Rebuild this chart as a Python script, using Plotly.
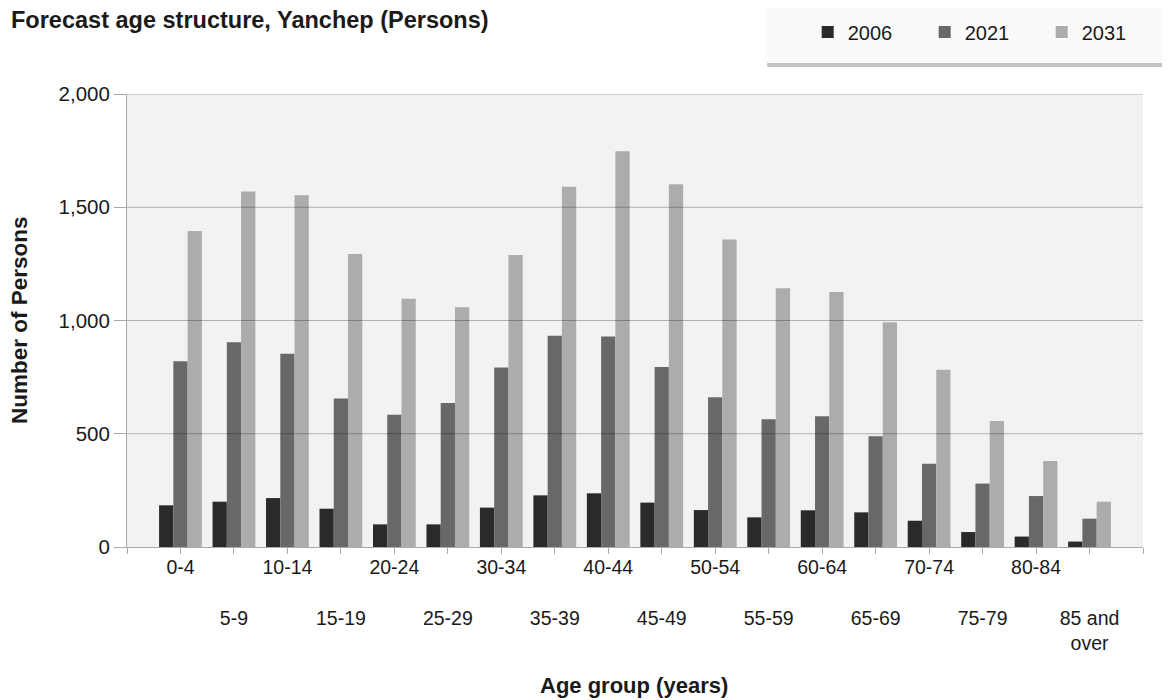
import plotly.graph_objects as go

age_groups = ["0-4", "5-9", "10-14", "15-19", "20-24", "25-29", "30-34", "35-39",
              "40-44", "45-49", "50-54", "55-59", "60-64", "65-69", "70-74",
              "75-79", "80-84", "85 and<br>over"]
years = ["2006", "2021", "2031"]
persons_2006 = [184, 200, 216, 169, 100, 100, 174, 228, 237, 196, 163, 131, 162, 153, 116, 66, 46, 24]
persons_2021 = [820, 904, 853, 656, 584, 636, 792, 933, 929, 795, 661, 564, 577, 489, 368, 280, 225, 125]
persons_2031 = [1395, 1570, 1553, 1294, 1096, 1058, 1289, 1591, 1747, 1601, 1358, 1142, 1126, 992, 783, 556, 380, 200]
series_colors = ["#2a2a2a", "#686868", "#acacac"]
y_ticks = [0, 500, 1000, 1500, 2000]

FONT = "Liberation Sans, Arial, sans-serif"
TXT = "#1a1a1a"

fig = go.Figure()
for name, vals, col in zip(years, [persons_2006, persons_2021, persons_2031], series_colors):
    fig.add_trace(go.Bar(x=age_groups, y=vals, name=name, marker=dict(color=col, line=dict(width=0))))

# staggered tick labels: odd positions pushed to a second row
tick_text = [lab if i % 2 == 0 else "<br><br>" + lab for i, lab in enumerate(age_groups)]
tick_vals = list(range(-1, len(age_groups) + 1))
tick_text_full = [""] + tick_text + [""]

# Legend background box with shadow
fig.add_shape(type="rect", xref="paper", yref="paper", x0=0.630, x1=1.06, y0=1.0596, y1=1.20,
              fillcolor="#c4c4c4", line=dict(width=0), layer="below")
fig.add_shape(type="rect", xref="paper", yref="paper", x0=0.628, x1=1.06, y0=1.0684, y1=1.24,
              fillcolor="#fafafa", line=dict(width=0), layer="below")

# gridlines drawn above bars
for v in y_ticks[1:]:
    fig.add_shape(type="line", xref="paper", yref="y", x0=0, x1=1, y0=v, y1=v,
                  line=dict(color="rgba(0,0,0,0.27)", width=1), layer="above")

fig.update_layout(
    width=1170, height=700,
    margin=dict(l=119, r=35, t=86, b=161, autoexpand=False),
    paper_bgcolor="white", plot_bgcolor="#f2f2f2",
    barmode="group", bargap=0.2, bargroupgap=0,
    font=dict(family=FONT, size=19, color=TXT),
    legend=dict(orientation="h", xref="container", yref="container", x=0.6835, xanchor="left",
                y=1 - 24 / 700, yanchor="middle",
                bgcolor="rgba(0,0,0,0)", font=dict(family=FONT, size=20, color=TXT),
                entrywidth=72, entrywidthmode="pixels", traceorder="normal"),
    xaxis=dict(type="category", range=[-1, len(age_groups)], tickmode="array",
               tickvals=tick_vals, ticktext=tick_text_full, ticks="outside", ticklen=6,
               tickangle=0, automargin=False, ticklabelstandoff=-3,
               tickcolor="#aaaaaa", showline=True, linecolor="#aaaaaa", linewidth=1,
               showgrid=False, tickfont=dict(family=FONT, size=19.5, color=TXT)),
    yaxis=dict(range=[0, 2000], tickvals=y_ticks, tickformat=",", ticks="outside", ticklen=12,
               automargin=False,
               tickcolor="#aaaaaa", showline=True, linecolor="#aaaaaa", linewidth=1,
               showgrid=False, zeroline=False, tickfont=dict(family=FONT, size=20.5, color=TXT)),
    annotations=[
        dict(text="<b>Forecast age structure, Yanchep (Persons)</b>", xref="paper", yref="paper",
             x=-0.1162, y=1.163, showarrow=False, xanchor="left", yanchor="middle",
             font=dict(family=FONT, size=23.5, color=TXT)),
        dict(text="<b>Number of Persons</b>", xref="paper", yref="paper", x=-0.1063, y=0.501,
             textangle=-90, showarrow=False, xanchor="center", yanchor="middle",
             font=dict(family=FONT, size=22.5, color=TXT)),
        dict(text="<b>Age group (years)</b>", xref="paper", yref="paper", x=0.499, y=-0.3068,
             showarrow=False, xanchor="center", yanchor="middle",
             font=dict(family=FONT, size=22, color=TXT)),
    ],
)

fig.write_html("out.html")
